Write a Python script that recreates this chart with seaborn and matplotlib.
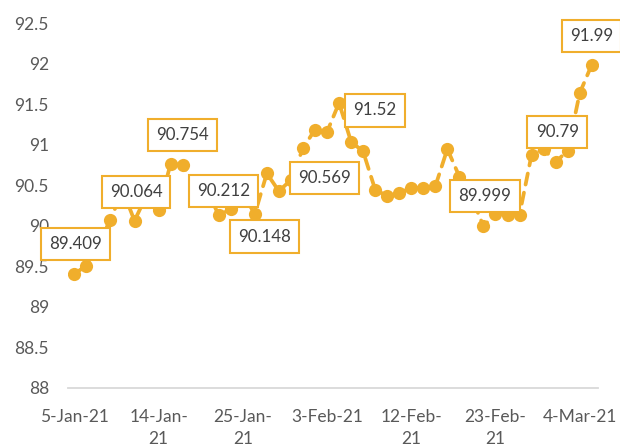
import matplotlib
matplotlib.use("Agg")
import matplotlib.pyplot as plt
import seaborn as sns
from matplotlib.ticker import FixedLocator

# ---------------- data ----------------
dates = ["5-Jan-21", "6-Jan-21", "7-Jan-21", "8-Jan-21", "11-Jan-21", "12-Jan-21",
         "13-Jan-21", "14-Jan-21", "15-Jan-21", "18-Jan-21", "19-Jan-21", "20-Jan-21",
         "21-Jan-21", "22-Jan-21", "25-Jan-21", "26-Jan-21", "27-Jan-21", "28-Jan-21",
         "29-Jan-21", "1-Feb-21", "2-Feb-21", "3-Feb-21", "4-Feb-21", "5-Feb-21",
         "8-Feb-21", "9-Feb-21", "10-Feb-21", "11-Feb-21", "12-Feb-21", "15-Feb-21",
         "16-Feb-21", "17-Feb-21", "18-Feb-21", "19-Feb-21", "22-Feb-21", "23-Feb-21",
         "24-Feb-21", "25-Feb-21", "26-Feb-21", "1-Mar-21", "2-Mar-21", "3-Mar-21",
         "4-Mar-21", "5-Mar-21"]

values = [89.409, 89.51, 89.80, 90.07, 90.45, 90.064, 90.38, 90.20, 90.77, 90.754,
          90.52, 90.46, 90.13, 90.212, 90.40, 90.148, 90.65, 90.43, 90.569, 90.96,
          91.19, 91.16, 91.52, 91.04, 90.92, 90.45, 90.37, 90.41, 90.47, 90.47,
          90.49, 90.95, 90.61, 90.36, 89.999, 90.15, 90.14, 90.14, 90.88, 90.95,
          90.79, 90.93, 91.64, 91.99]

tick_idx = [0, 7, 14, 21, 28, 35, 42]
tick_labels = ["5-Jan-21", "14-Jan-\n21", "25-Jan-\n21", "3-Feb-21",
               "12-Feb-\n21", "23-Feb-\n21", "4-Mar-21"]

y_ticks = [88, 88.5, 89, 89.5, 90, 90.5, 91, 91.5, 92, 92.5]

labelled_idx = [0, 5, 9, 13, 15, 18, 22, 34, 40, 43]
# label box offsets from the point (pixels)
label_offsets = [(1.5, 29.5), (1.5, 28.5), (0, 30), (-7, 18), (10, -22.5),
                 (33.5, 2), (36, -7.5), (1.5, 30), (1.5, 30), (0, 29)]

# ---------------- style ----------------
sns.set_theme(style="white")
plt.rcParams["font.family"] = ["Lato", "DejaVu Sans"]

COLOR = "#F0AE2C"
TICK_COLOR = "#595959"
AXIS_COLOR = "#D9D9D9"

fig = plt.figure(figsize=(6.2, 4.45), dpi=100)
ax = fig.add_axes([0.1102, 0.1281, 0.8539, 0.8191])

df = {"x": list(range(len(dates))), "y": values}
sns.lineplot(x=df["x"], y=df["y"], ax=ax, color=COLOR, linewidth=2.7,
             marker="o", markersize=9.5, markeredgewidth=0, sort=False)
for ln in ax.lines:
    ln.set_linestyle((0, (3.0, 2.2)))
    ln.set_dash_capstyle("round")

# axes
ax.set_xlim(-0.5, len(dates) - 0.5)
ax.set_ylim(88, 92.5)
ax.set_yticks(y_ticks)
ax.set_yticklabels([f"{t:g}" for t in y_ticks])
ax.set_xticks(tick_idx)
ax.set_xticklabels(tick_labels)
ax.xaxis.set_minor_locator(FixedLocator([i - 0.5 for i in range(len(dates) + 1)]))

ax.tick_params(axis="y", length=0, pad=14, labelsize=12.5, labelcolor=TICK_COLOR)
ax.tick_params(axis="x", which="major", length=0, pad=15, labelsize=12.5,
               labelcolor=TICK_COLOR)
ax.tick_params(axis="x", which="minor", length=4.5, width=1.1, color=AXIS_COLOR,
               direction="out")
for lbl in ax.get_xticklabels():
    lbl.set_verticalalignment("top")
    lbl.set_linespacing(1.45)

for s in ["top", "right", "left"]:
    ax.spines[s].set_visible(False)
ax.spines["bottom"].set_color(AXIS_COLOR)
ax.spines["bottom"].set_linewidth(1.3)
ax.grid(False)
ax.set_xlabel("")
ax.set_ylabel("")

# data labels
for i, (dx, dy) in zip(labelled_idx, label_offsets):
    ax.annotate(f"{values[i]:g}", xy=(i, values[i]), xytext=(dx, dy),
                textcoords="offset pixels", ha="center", va="center",
                fontsize=12.2, color="#404040", zorder=10,
                bbox=dict(boxstyle="square,pad=0.48", fc="white", ec=COLOR, lw=1.5),
                annotation_clip=False)

fig.savefig("out.png", dpi=100)
